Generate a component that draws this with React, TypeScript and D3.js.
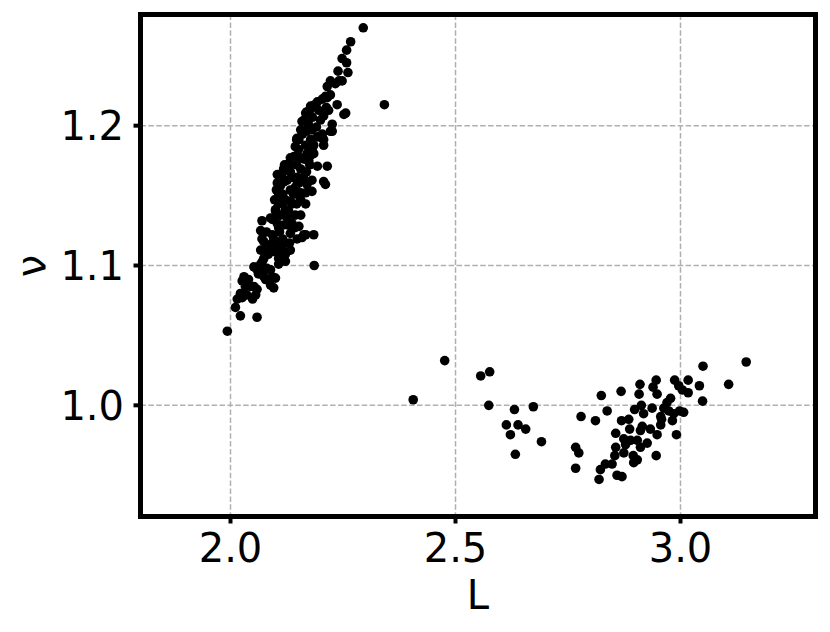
import React from 'react';
import * as d3 from 'd3';

// L and nu readings, same order in both arrays
const lValues = [
  // upper-left band
  2.295, 2.267, 2.258, 2.248, 2.258, 2.261, 2.239, 2.248, 2.233, 2.215, 2.211, 2.193, 2.178, 2.170, 2.237, 2.252,
  2.226, 2.207, 2.204, 2.218, 2.207, 2.200, 2.163, 2.156, 2.152, 2.144, 2.141, 2.133, 2.115, 2.104, 2.170, 2.178,
  2.170, 2.185, 2.193, 2.215, 2.207, 2.204,
  2.222, 2.241, 2.215, 2.167, 2.256, 2.226, 2.159, 2.148, 2.130, 2.118, 2.111, 2.104, 2.181, 2.193, 2.185, 2.178,
  2.174, 2.181, 2.207, 2.222, 2.126, 2.148,
  2.111, 2.152, 2.170, 2.181, 2.167, 2.148, 2.107, 2.118, 2.137, 2.122, 2.100, 2.100, 2.104, 2.126, 2.137, 2.152,
  2.159, 2.133, 2.148, 2.070, 2.067, 2.074, 2.085, 2.074, 2.081, 2.067, 2.096, 2.100, 2.107, 2.115, 2.118, 2.133,
  2.167, 2.185, 2.107, 2.122, 2.052, 2.030, 2.026, 2.033, 2.052, 2.074, 2.186,
  2.211, 2.156, 2.133, 2.093, 2.070, 2.078, 2.059, 2.044, 2.059, 2.022, 2.026, 2.015, 2.011, 2.022, 2.059, 1.993,
  2.093, 2.100, 2.089, 2.096, 2.133, 2.163,
  2.093, 2.107, 2.118, 2.089, 2.084, 2.071, 2.062, 2.078, 2.111, 2.129, 2.116, 2.133, 2.144, 2.156, 2.138, 2.156,
  2.164, 2.151, 2.167, 2.160, 2.173, 2.182, 2.196, 2.187, 2.204, 2.222, 2.156, 2.147, 2.129, 2.169, 2.120, 2.107,
  2.098, 2.116, 2.102, 2.080, 2.089, 2.040, 2.056, 2.036, 2.049, 2.131, 2.142, 2.156, 2.147, 2.167, 2.102,
  2.100, 2.122, 2.140, 2.127, 2.109, 2.096, 2.078, 2.067, 2.089, 2.149, 2.162, 2.176, 2.182, 2.147, 2.169, 2.191,
  2.176, 2.213, 2.133, 2.120, 2.144, 2.122, 2.178,
  2.342,
  // middle scatter
  2.406, 2.476, 2.556, 2.576, 2.574, 2.631, 2.673, 2.613, 2.639, 2.656, 2.622, 2.691, 2.633,
  // lower-right group
  3.146, 3.050, 3.107, 3.049, 3.042, 3.017, 2.987, 2.996, 3.004, 3.017, 2.946, 2.910, 2.939, 2.948, 2.908, 2.868,
  2.824, 2.837, 2.779, 2.811, 2.978, 2.970, 2.963, 2.974, 2.985, 3.007, 2.998, 2.913, 2.898, 2.937, 2.918, 2.956,
  2.958, 2.982, 2.869, 2.885, 2.887, 2.915, 2.911, 2.933, 2.956, 2.991, 2.948, 2.856, 2.874, 2.889, 2.904, 2.926,
  2.911, 2.856, 2.878, 2.767, 2.774, 2.874, 2.854, 2.895, 2.896, 2.946, 2.904, 2.833, 2.848, 2.767, 2.822, 2.819,
  2.859, 2.870,
];

const nuValues = [
  1.270, 1.260, 1.254, 1.248, 1.245, 1.238, 1.239, 1.232, 1.230, 1.228, 1.221, 1.217, 1.214, 1.210, 1.215, 1.208,
  1.196, 1.190, 1.194, 1.211, 1.207, 1.204, 1.204, 1.197, 1.190, 1.185, 1.178, 1.167, 1.166, 1.165, 1.197, 1.190,
  1.180, 1.180, 1.171, 1.171, 1.186, 1.191,
  1.232, 1.232, 1.220, 1.209, 1.209, 1.201, 1.203, 1.191, 1.173, 1.169, 1.164, 1.159, 1.197, 1.192, 1.186, 1.182,
  1.175, 1.161, 1.160, 1.196, 1.161, 1.163,
  1.157, 1.159, 1.158, 1.153, 1.152, 1.151, 1.150, 1.146, 1.144, 1.140, 1.139, 1.135, 1.130, 1.134, 1.130, 1.128,
  1.120, 1.123, 1.119, 1.132, 1.125, 1.117, 1.111, 1.105, 1.098, 1.101, 1.119, 1.110, 1.105, 1.114, 1.109, 1.111,
  1.122, 1.122, 1.101, 1.103, 1.099, 1.092, 1.089, 1.085, 1.085, 1.092, 1.100,
  1.158, 1.152, 1.146, 1.133, 1.119, 1.113, 1.097, 1.085, 1.083, 1.080, 1.077, 1.076, 1.070, 1.064, 1.063, 1.053,
  1.092, 1.091, 1.086, 1.084, 1.129, 1.122,
  1.122, 1.127, 1.129, 1.115, 1.108, 1.103, 1.094, 1.090, 1.136, 1.139, 1.151, 1.154, 1.156, 1.147, 1.163, 1.169,
  1.176, 1.183, 1.186, 1.194, 1.201, 1.206, 1.211, 1.215, 1.219, 1.222, 1.177, 1.172, 1.169, 1.167, 1.160, 1.144,
  1.147, 1.119, 1.115, 1.124, 1.097, 1.090, 1.079, 1.079, 1.076, 1.116, 1.127, 1.136, 1.144, 1.144, 1.154,
  1.140, 1.147, 1.151, 1.129, 1.124, 1.110, 1.097, 1.111, 1.134, 1.159, 1.163, 1.172, 1.184, 1.190, 1.196, 1.199,
  1.211, 1.213, 1.177, 1.172, 1.136, 1.108, 1.179,
  1.215,
  1.004, 1.032, 1.021, 1.024, 1.000, 0.997, 0.999, 0.986, 0.986, 0.983, 0.979, 0.974, 0.965,
  1.031, 1.028, 1.015, 1.003, 1.014, 1.018, 1.018, 1.014, 1.011, 1.009, 1.018, 1.015, 1.013, 1.008, 1.008, 1.010,
  1.007, 0.996, 0.992, 0.989, 1.005, 1.002, 0.998, 0.996, 0.994, 0.995, 0.996, 1.000, 0.997, 0.998, 0.994, 0.992,
  0.990, 0.989, 0.989, 0.990, 0.983, 0.985, 0.982, 0.983, 0.986, 0.979, 0.979, 0.980, 0.976, 0.975, 0.975, 0.973,
  0.970, 0.970, 0.972, 0.970, 0.966, 0.966, 0.964, 0.964, 0.959, 0.964, 0.961, 0.958, 0.958, 0.955, 0.954, 0.947,
  0.950, 0.949,
];

const xTicks = [2.0, 2.5, 3.0];
const yTicks = [1.0, 1.1, 1.2];

const W = 830, H = 632;
const left = 140.5, right = 815.5, top = 14.5, bottom = 516.5;
const font = 'DejaVu Sans, sans-serif';

export default function App() {
  const x = d3.scaleLinear().domain([1.8, 3.3]).range([left, right]);
  const y = d3.scaleLinear().domain([0.9205, 1.2795]).range([bottom, top]);
  const pts = d3.zip(lValues, nuValues);

  return (
    <>
      <style>{'body{margin:0}'}</style>
      <svg width={W} height={H} style={{ display: 'block' }}>
        <rect width={W} height={H} fill="#fff" />
        {/* grid */}
        <g stroke="#b0b0b0" strokeWidth={1.5} strokeDasharray="5.5,2.4">
          {xTicks.map(t => <line key={'gx' + t} x1={x(t)} x2={x(t)} y1={top} y2={bottom} />)}
          {yTicks.map(t => <line key={'gy' + t} x1={left} x2={right} y1={y(t)} y2={y(t)} />)}
        </g>
        {/* points */}
        <g fill="#000">
          {pts.map(([l, v], i) => <circle key={i} cx={x(l)} cy={y(v)} r={4.8} />)}
        </g>
        {/* frame */}
        <rect x={left} y={top} width={right - left} height={bottom - top} fill="none" stroke="#000" strokeWidth={5} />
        {/* ticks + labels */}
        <g fontFamily={font} fontSize={40} fill="#000">
          {xTicks.map(t => (
            <g key={'tx' + t}>
              <line x1={x(t)} x2={x(t)} y1={bottom} y2={bottom + 7} stroke="#000" strokeWidth={4} />
              <text x={x(t)} y={562} textAnchor="middle">{t.toFixed(1)}</text>
            </g>
          ))}
          {yTicks.map(t => (
            <g key={'ty' + t}>
              <line x1={left - 7} x2={left} y1={y(t)} y2={y(t)} stroke="#000" strokeWidth={4} />
              <text x={124} y={y(t) + 14.5} textAnchor="end">{t.toFixed(1)}</text>
            </g>
          ))}
          <text x={478} y={609} textAnchor="middle">L</text>
          <text transform="translate(45,266) rotate(-90)" textAnchor="middle">ν</text>
        </g>
      </svg>
    </>
  );
}
